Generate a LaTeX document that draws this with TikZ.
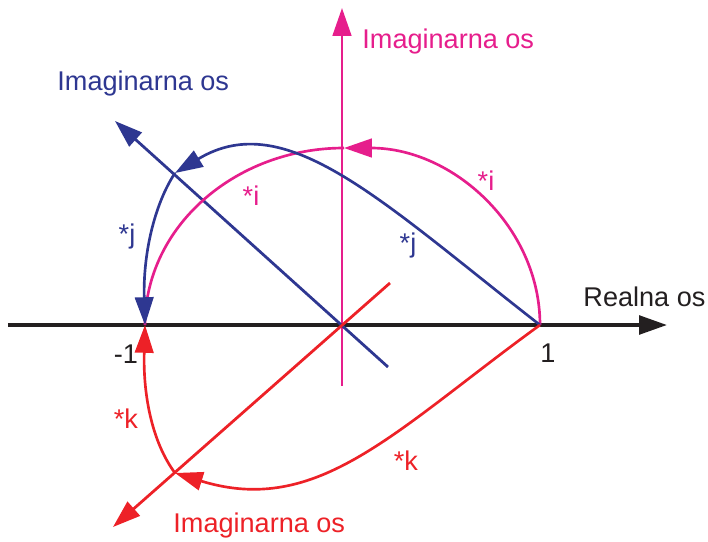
\documentclass[tikz,border=0pt]{standalone}
\usepackage{fontspec}
\setmainfont{Liberation Sans}
\usetikzlibrary{arrows.meta}

\definecolor{osblack}{RGB}{35,31,32}
\definecolor{ospink}{RGB}{230,30,140}
\definecolor{osblue}{RGB}{46,55,145}
\definecolor{osred}{RGB}{237,33,39}

\begin{document}
\begin{tikzpicture}[
    x=0.01519cm, y=0.01519cm,
    axis/.style={line width=1.2pt, -{Triangle[length=12pt,width=8pt]}},
    curve/.style={line width=1.15pt},
    tip/.style={-{Triangle[length=12pt,width=8pt]}},
    lbl/.style={font=\fontsize{11.7}{14}\selectfont, inner sep=0pt}
]
\useasboundingbox (-342,-216) rectangle (366,325);

% Points
\coordinate (O) at (0,0);
\coordinate (one) at (198,0);
\coordinate (mone) at (-197,0);
\coordinate (pi) at (2,177);
\coordinate (pj) at (-167,152);
\coordinate (pk) at (-167,-148);

% Axis ends
\coordinate (re0) at (-334,0);
\coordinate (re1) at (325,0);
\coordinate (im0) at (0,-61);
\coordinate (im1) at (0,317);
\coordinate (jm0) at (46,-42);
\coordinate (jm1) at (-227,204);
\coordinate (km0) at (48,42);
\coordinate (km1) at (-229,-202);

% Axes
\draw[axis, osblack, line width=1.6pt] (re0) -- (re1);
\draw[axis, ospink] (im0) -- (im1);
\draw[axis, osblue] (jm0) -- (jm1);
\draw[axis, osred] (km0) -- (km1);

% Rotations
\draw[curve, tip, ospink] (one) .. controls +(0,98) and +(109,0) .. (pi);
\draw[curve, ospink] (pi) .. controls +(-109,0) and +(0,98) .. (mone);

\draw[curve, tip, osblue] (one) .. controls (40,123) and (-56,219) .. (pj);
\draw[curve, tip, osblue] (pj) .. controls (-188,120) and (-199,70) .. (mone);

\draw[curve, tip, osred] (one) .. controls (52,-106) and (-24,-192) .. (pk);
\draw[curve, tip, osred] (pk) .. controls (-190,-117) and (-199,-70) .. (mone);

% Labels
\node[lbl, anchor=base west, osblack] (relbl) at (241,19) {Realna os};
\node[lbl, anchor=base, osblack] (onelbl) at (206,-37) {1};
\node[lbl, anchor=base, osblack] (monelbl) at (-216,-38) {-1};
\node[lbl, anchor=base west, ospink] (imlbl) at (20,277) {Imaginarna os};
\node[lbl, anchor=base west, osblue] (jmlbl) at (-285,235) {Imaginarna os};
\node[lbl, anchor=base west, osred] (kmlbl) at (-169,-207) {Imaginarna os};

\node[lbl, anchor=base, ospink] (ione) at (-91,120) {*i};
\node[lbl, anchor=base, ospink] (itwo) at (144,135) {*i};
\node[lbl, anchor=base, osblue] (jone) at (-215,82) {*j};
\node[lbl, anchor=base, osblue] (jtwo) at (66,73) {*j};
\node[lbl, anchor=base, osred] (kone) at (-216,-103) {*k};
\node[lbl, anchor=base, osred] (ktwo) at (64,-145) {*k};

\end{tikzpicture}
\end{document}
